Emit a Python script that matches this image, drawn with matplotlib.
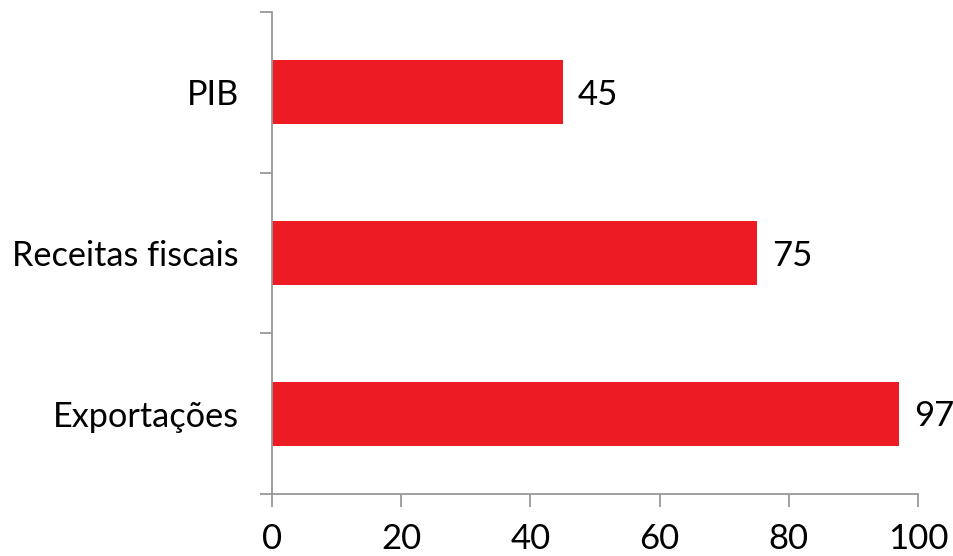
import matplotlib
matplotlib.use('Agg')
import matplotlib.pyplot as plt
import numpy as np

categories = ['Exportações', 'Receitas fiscais', 'PIB']
values = [97, 75, 45]
x_ticks = [0, 20, 40, 60, 80, 100]

bar_color = '#ED1C24'
axis_color = '#999999'

plt.rcParams['font.family'] = ['Lato', 'DejaVu Sans']

fig = plt.figure(figsize=(9.54, 5.56), dpi=100)
ax = fig.add_axes([0.2851, 0.1115, 0.9623 - 0.2851, 0.9784 - 0.1115])

pos = np.arange(len(categories))
ax.barh(pos, values, height=0.4, color=bar_color)

for p, v in zip(pos, values):
    ax.annotate(f'{v}', xy=(v, p), xytext=(11, -2), textcoords='offset points',
                va='center', ha='left', fontsize=25)

ax.set_xlim(0, 100)
ax.set_ylim(-0.5, len(categories) - 0.5)
ax.set_xticks(x_ticks)
ax.set_xticklabels([str(t) for t in x_ticks], fontsize=25)

# category labels centred, ticks on the category boundaries
ax.set_yticks(np.arange(len(categories) + 1) - 0.5)
ax.set_yticklabels([])
ax.set_yticks(pos, minor=True)
ax.set_yticklabels(categories, minor=True, fontsize=24.7)
ax.tick_params(axis='y', which='minor', length=0, pad=24)
ax.tick_params(axis='y', which='major', length=9, width=1.3, color=axis_color)
ax.tick_params(axis='x', length=9, width=1.3, color=axis_color, pad=12)

for side in ['top', 'right']:
    ax.spines[side].set_visible(False)
for side in ['left', 'bottom']:
    ax.spines[side].set_color(axis_color)
    ax.spines[side].set_linewidth(1.3)

fig.savefig('out.png', dpi=100)
